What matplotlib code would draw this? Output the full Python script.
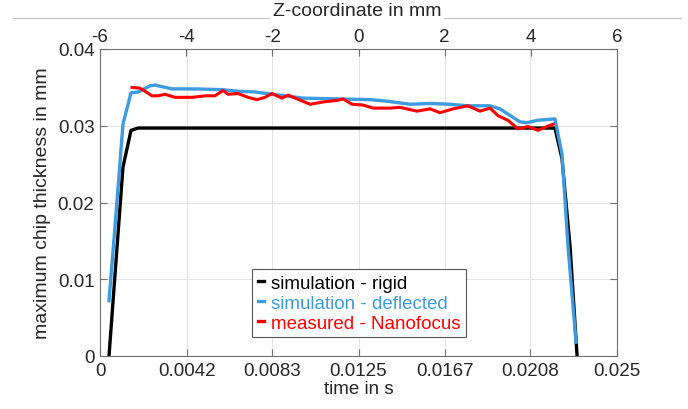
import numpy as np
import matplotlib.pyplot as plt
from matplotlib.lines import Line2D

plt.rcParams['font.family'] = ['Liberation Sans', 'DejaVu Sans']

# time in s / chip thickness in mm
t_rigid = [0.000435, 0.00111, 0.00150, 0.00184, 0.0120, 0.02200, 0.02234, 0.02273, 0.02307]
h_rigid = [0.0, 0.0246, 0.0294, 0.0297, 0.0297, 0.0297, 0.0257, 0.0143, 0.0]

t_defl = [0.000435, 0.000774, 0.00111, 0.00150, 0.00184, 0.00242, 0.00266, 0.00348,
          0.00459, 0.00590, 0.00667, 0.00750, 0.00832, 0.00982, 0.01146, 0.01306,
          0.01388, 0.01499, 0.01596, 0.01693, 0.01775, 0.01886, 0.01934, 0.02031,
          0.02065, 0.02113, 0.02200, 0.02234, 0.02263, 0.02302]
h_defl = [0.0072, 0.0185, 0.0302, 0.0343, 0.0344, 0.0352, 0.0353, 0.0348,
          0.0348, 0.0347, 0.0345, 0.0344, 0.0341, 0.0336, 0.0335, 0.0334,
          0.0332, 0.0328, 0.0329, 0.0328, 0.0326, 0.0326, 0.0322, 0.0305,
          0.0304, 0.0307, 0.0309, 0.0263, 0.0143, 0.0018]

t_meas = [0.00155, 0.00193, 0.00218, 0.00251, 0.00280, 0.00314, 0.00363, 0.00445,
          0.00508, 0.00556, 0.00595, 0.00619, 0.00667, 0.00716, 0.00759, 0.00798,
          0.00832, 0.00880, 0.00909, 0.00953, 0.01016, 0.01078, 0.01146, 0.01175,
          0.01219, 0.01272, 0.01320, 0.01402, 0.01451, 0.01532, 0.01596, 0.01644,
          0.01707, 0.01779, 0.01838, 0.01886, 0.01925, 0.01973, 0.02021, 0.02070,
          0.02118, 0.02161, 0.02191]
h_meas = [0.0350, 0.0349, 0.0345, 0.0339, 0.0339, 0.0341, 0.0337, 0.0337,
          0.0339, 0.0339, 0.0346, 0.0341, 0.0342, 0.0337, 0.0334, 0.0337,
          0.0342, 0.0336, 0.0340, 0.0335, 0.0328, 0.0331, 0.0333, 0.0335,
          0.0328, 0.0327, 0.0323, 0.0323, 0.0324, 0.0319, 0.0322, 0.0317,
          0.0322, 0.0326, 0.0319, 0.0323, 0.0313, 0.0307, 0.0296, 0.0299,
          0.0294, 0.0299, 0.0302]

x_ticks = [0, 0.0042, 0.0083, 0.0125, 0.0167, 0.0208, 0.025]
x_labels = ['0', '0.0042', '0.0083', '0.0125', '0.0167', '0.0208', '0.025']
y_ticks = [0, 0.01, 0.02, 0.03, 0.04]
y_labels = ['0', '0.01', '0.02', '0.03', '0.04']
z_ticks = [-6, -4, -2, 0, 2, 4, 6]

c_rigid = '#000000'
c_defl = '#3d9be0'
c_meas = '#ff0000'
axcol = '#707070'
txtcol = '#262626'

fig = plt.figure(figsize=(6.88, 4.10), dpi=100)
ax = fig.add_axes([100/688, 53/410, 517/688, 307/410])

ax.plot(t_rigid, h_rigid, color=c_rigid, lw=2.4)
ax.plot(t_defl, h_defl, color=c_defl, lw=2.4)
ax.plot(t_meas, h_meas, color=c_meas, lw=2.2)

ax.set_xlim(0, 0.025)
ax.set_ylim(0, 0.04)
ax.set_xticks(x_ticks)
ax.set_xticklabels(x_labels)
ax.set_yticks(y_ticks)
ax.set_yticklabels(y_labels)
ax.grid(True, color='#e4e4e4', lw=0.8)
ax.set_axisbelow(True)
ax.tick_params(direction='in', length=5, width=0.8, colors=axcol, labelcolor=txtcol,
               labelsize=13.5, right=True, top=False, pad=4)
for s in ax.spines.values():
    s.set_color(axcol)
    s.set_linewidth(0.8)
ax.set_xlabel('time in s', fontsize=13.5, color=txtcol, labelpad=1)
ax.set_ylabel('maximum chip thickness in mm', fontsize=14, color=txtcol, labelpad=5)

ax2 = ax.twiny()
ax2.set_xlim(-6, 6)
ax2.set_xticks(z_ticks)
ax2.set_xticklabels([str(z) for z in z_ticks])
ax2.tick_params(direction='in', length=5, width=0.8, colors=axcol, labelcolor=txtcol,
                labelsize=13.5, pad=3)
for s in ax2.spines.values():
    s.set_visible(False)

# top label with line behind it
fig.add_artist(Line2D([13/688, 681/688], [1 - 19/410, 1 - 19/410], color='#c8c8c8', lw=0.9))
fig.text(357/688, 1 - 12/410, 'Z-coordinate in mm', ha='center', va='center', fontsize=14,
         color=txtcol, bbox=dict(facecolor='white', edgecolor='none', pad=2))

handles = [Line2D([], [], color=c_rigid, lw=2.4),
           Line2D([], [], color=c_defl, lw=2.4),
           Line2D([], [], color=c_meas, lw=2.4)]
leg = ax.legend(handles, ['simulation - rigid', 'simulation - deflected', 'measured - Nanofocus'],
                loc='upper left', bbox_to_anchor=((252-100)/517, (357-270)/307),
                fontsize=13.5, handlelength=0.35, handletextpad=0.35, borderpad=0.3,
                labelspacing=0.15, fancybox=False, framealpha=1, borderaxespad=0)
leg.get_frame().set_edgecolor('#555555')
leg.get_frame().set_linewidth(0.8)
for txt, c in zip(leg.get_texts(), [c_rigid, c_defl, c_meas]):
    txt.set_color(c)

fig.savefig('out.png', dpi=100)
